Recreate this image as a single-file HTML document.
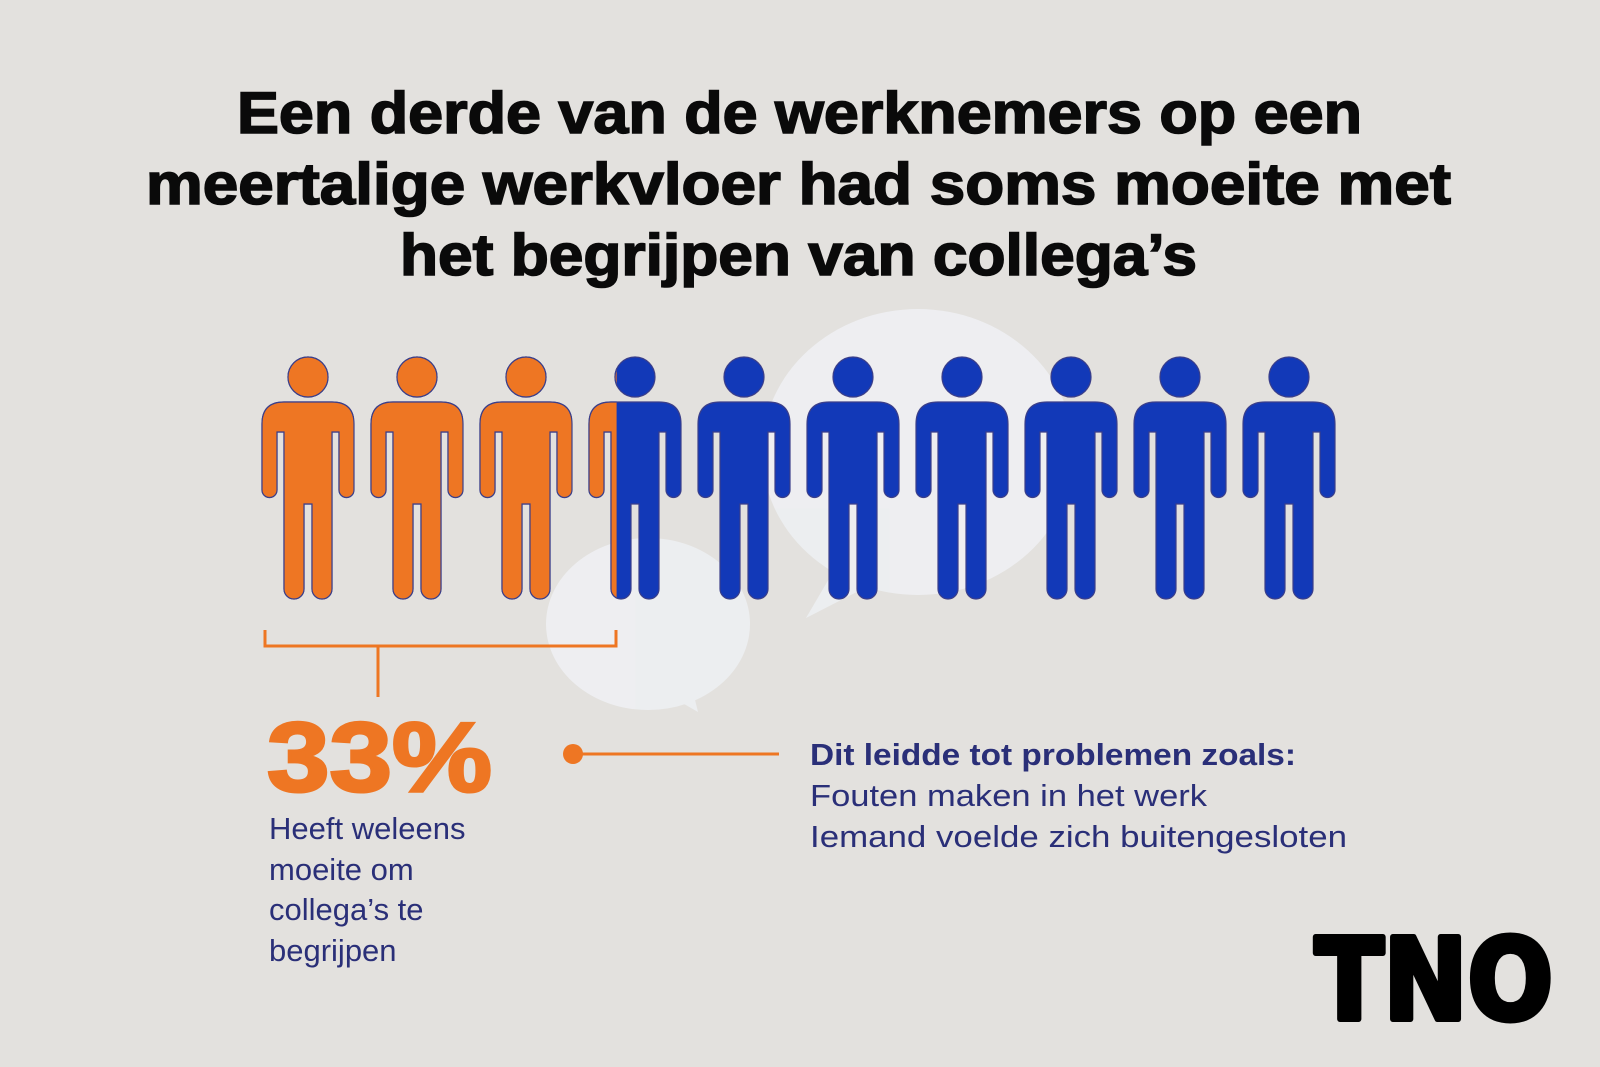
<!DOCTYPE html>
<html><head><meta charset="utf-8">
<style>
html,body{margin:0;padding:0;background:#e3e1de;}
svg{display:block;}
</style></head>
<body>
<svg width="1600" height="1067" viewBox="0 0 1600 1067" xmlns="http://www.w3.org/2000/svg">
  <rect width="1600" height="1067" fill="#e3e1de"/>
  <g fill="#eef0f3" opacity="0.9">
    <ellipse cx="918" cy="452" rx="156" ry="143"/>
    <path d="M840,560 L806,618 L880,580 Z"/>
    <ellipse cx="648" cy="624" rx="102" ry="86"/>
    <path d="M660,690 L698,712 L690,680 Z"/>
  </g>
  <g font-family="Liberation Sans, sans-serif" font-weight="bold" font-size="58" fill="#0a0a0a" stroke="#0a0a0a" stroke-width="1.6">
    <text x="237" y="133" textLength="1125" lengthAdjust="spacingAndGlyphs">Een derde van de werknemers op een</text>
    <text x="146" y="204" textLength="1305" lengthAdjust="spacingAndGlyphs">meertalige werkvloer had soms moeite met</text>
    <text x="400" y="275" textLength="797" lengthAdjust="spacingAndGlyphs">het begrijpen van collega’s</text>
  </g>
  <defs>
    <path id="person" d="M0,67 Q0,45 22,45 L70,45 Q92,45 92,67 L92,133 A7.5,7.5 0 0 1 77,133 L77,75 L70,75 L70,232 A10,10 0 0 1 50,232 L50,147 L42,147 L42,232 A10,10 0 0 1 22,232 L22,75 L15,75 L15,133 A7.5,7.5 0 0 1 0,133 Z"/>
  </defs>
  <g id="people"></g>
  <g stroke="#ee7623" stroke-width="3" fill="none">
    <path d="M265,630 L265,646 L616,646 L616,630"/>
    <path d="M378,646 L378,697"/>
  </g>
  <text id="pct" x="267" y="791" font-family="Liberation Sans, sans-serif" font-weight="bold" font-size="98" fill="#ee7623" stroke="#ee7623" stroke-width="3" textLength="225" lengthAdjust="spacingAndGlyphs">33%</text>
  <g font-family="Liberation Sans, sans-serif" font-size="31" fill="#2a2f78">
    <text x="269" y="839">Heeft weleens</text>
    <text x="269" y="880">moeite om</text>
    <text x="269" y="920">collega’s te</text>
    <text x="269" y="961">begrijpen</text>
  </g>
  <g>
    <circle cx="573" cy="754" r="10" fill="#ee7623"/>
    <line x1="573" y1="754" x2="779" y2="754" stroke="#ee7623" stroke-width="3"/>
  </g>
  <g font-family="Liberation Sans, sans-serif" font-size="31" fill="#2a2f78">
    <text x="810" y="765" font-weight="bold" textLength="486" lengthAdjust="spacingAndGlyphs">Dit leidde tot problemen zoals:</text>
    <text x="810" y="806" textLength="397" lengthAdjust="spacingAndGlyphs">Fouten maken in het werk</text>
    <text x="810" y="847" textLength="537" lengthAdjust="spacingAndGlyphs">Iemand voelde zich buitengesloten</text>
  </g>
  <text x="1315" y="1019" font-family="DejaVu Sans, sans-serif" font-weight="bold" font-size="112" fill="#000" stroke="#000" stroke-width="6" stroke-linejoin="round" textLength="238" lengthAdjust="spacingAndGlyphs">TNO</text>
</svg>
<script>
const totalPeople = [10];
const shareValues = [33];
const seriesLabels = ["moeite", "geen moeite"];
const ns = "http://www.w3.org/2000/svg";
const g = document.getElementById('people');
const x0 = 262, step = 109, top0 = 357, w = 92;
const filled = shareValues[0] / 100 * totalPeople[0];
function px(i){ return x0 + i * step; }
const defs = document.querySelector('defs');
for (let i = 0; i < totalPeople[0]; i++) {
  const gp = document.createElementNS(ns, 'g');
  
  
  gp.setAttribute('transform', `translate(${px(i)},${top0})`);
  const frac = Math.max(0, Math.min(1, filled - i));
  const cp = document.createElementNS(ns, 'clipPath');
  cp.setAttribute('id', 'clip' + i);
  const cr = document.createElementNS(ns, 'rect');
  cr.setAttribute('x', -5); cr.setAttribute('y', -5);
  cr.setAttribute('width', 5 + frac * w); cr.setAttribute('height', 260);
  cp.appendChild(cr); defs.appendChild(cp);
  const mk = (fill, clip) => {
    const sg = document.createElementNS(ns, 'g');
    if (clip) sg.setAttribute('clip-path', 'url(#clip' + i + ')');
    const head = document.createElementNS(ns, 'circle');
    head.setAttribute('cx', 46); head.setAttribute('cy', 20); head.setAttribute('r', 20);
    const body = document.createElementNS(ns, 'use');
    body.setAttribute('href', '#person');
    [head, body].forEach(e => { e.setAttribute('fill', fill); e.setAttribute('stroke', '#3b3f8a'); e.setAttribute('stroke-width', '1.2'); sg.appendChild(e); });
    return sg;
  };
  gp.appendChild(mk('#1239b8', false));
  if (frac > 0) gp.appendChild(mk('#ee7623', true));
  g.appendChild(gp);
}
document.getElementById('pct').textContent = shareValues[0] + '%';
</script>
</body></html>
